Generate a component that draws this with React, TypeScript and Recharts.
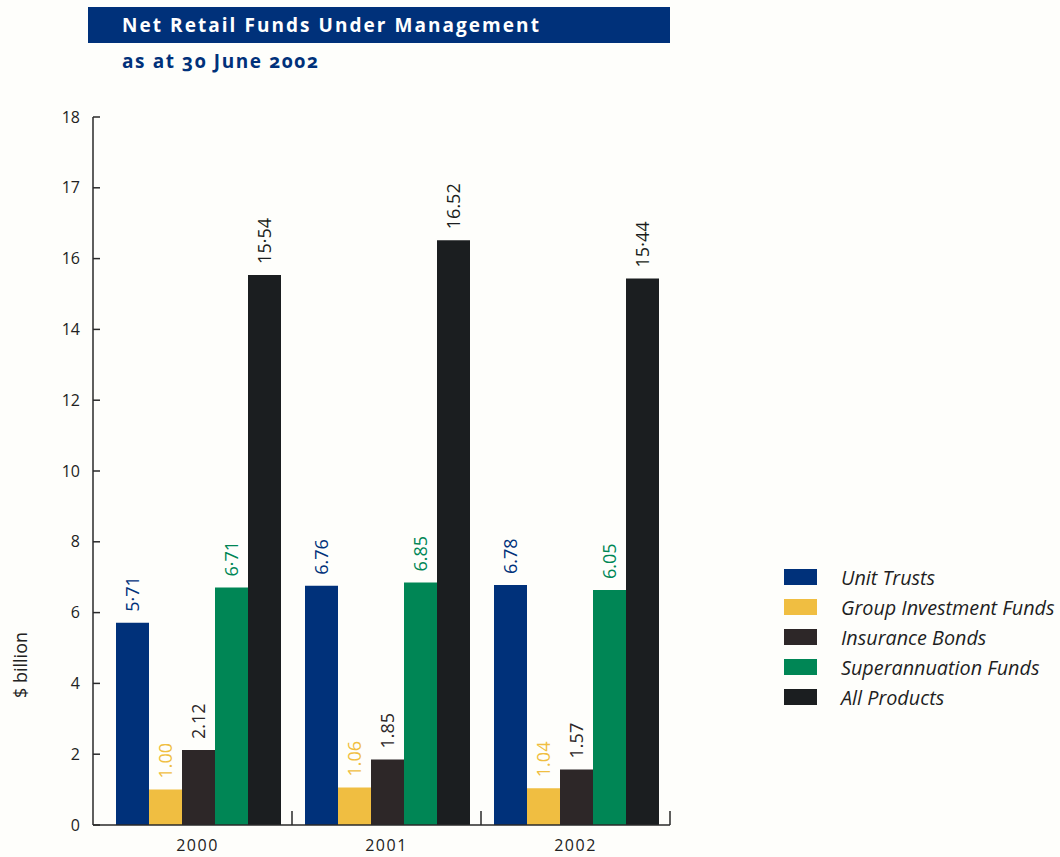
import { BarChart, Bar, XAxis, YAxis, LabelList } from 'recharts'

const years = ['2000', '2001', '2002']
const unitTrusts = [5.71, 6.76, 6.78]
const groupInvestment = [1.0, 1.06, 1.04]
const insuranceBonds = [2.12, 1.85, 1.57]
const superannuation = [6.71, 6.85, 6.64]
const allProducts = [15.54, 16.52, 15.44]

// printed labels (as shown on the chart, dots and all)
const unitTrustsLabels = ['5·71', '6.76', '6.78']
const groupInvestmentLabels = ['1.00', '1.06', '1.04']
const insuranceBondsLabels = ['2.12', '1.85', '1.57']
const superannuationLabels = ['6·71', '6.85', '6.05']
const allProductsLabels = ['15·54', '16.52', '15·44']

const yTickValues = [0, 2, 4, 6, 8, 10, 12, 14, 16, 18, 20]
const yTickLabels = ['0', '2', '4', '6', '8', '10', '12', '14', '16', '17', '18']

const series = [
  { key: 'unit', name: 'Unit Trusts', color: '#00317a', labels: unitTrustsLabels },
  { key: 'group', name: 'Group Investment Funds', color: '#f0be41', labels: groupInvestmentLabels },
  { key: 'insurance', name: 'Insurance Bonds', color: '#2d2728', labels: insuranceBondsLabels },
  { key: 'super', name: 'Superannuation Funds', color: '#008655', labels: superannuationLabels },
  { key: 'all', name: 'All Products', color: '#1b1e20', labels: allProductsLabels },
]

const data = years.map((year, i) => ({
  year,
  unit: unitTrusts[i],
  group: groupInvestment[i],
  insurance: insuranceBonds[i],
  super: superannuation[i],
  all: allProducts[i],
}))

const FONT = '"Open Sans", "Noto Sans", sans-serif'
const AXIS = '#2a2a2a'
const TICK_MARGIN = 15

function VerticalLabel(props: any) {
  const { x, y, width, index, labels, color } = props
  const cx = x + width / 2
  const top = y - 11
  return (
    <text
      x={cx}
      y={top}
      transform={`rotate(-90 ${cx} ${top})`}
      textAnchor="start"
      dominantBaseline="central"
      fill={color}
      fontSize={18}
      fontFamily={FONT}
    >
      {labels[index]}
    </text>
  )
}

// year label at the band centre, plus a short upward tick at the band's right edge
function YearTick(props: any) {
  const { x, y, payload } = props
  const edge = x + (payload.offset || 0)
  const axisY = y - TICK_MARGIN
  return (
    <g>
      <line x1={edge} x2={edge} y1={axisY} y2={axisY - 14} stroke={AXIS} strokeWidth={1.5} />
      <text x={x} y={y} dy="0.71em" textAnchor="middle" fill="#222" fontSize={16} fontFamily={FONT} letterSpacing={1.5}>
        {payload.value}
      </text>
    </g>
  )
}

export default function App() {
  return (
    <div style={{ position: 'absolute', left: 0, top: 0, width: 1060, height: 857, background: '#fefefb', fontFamily: FONT }}>
      <div style={{ position: 'absolute', left: 88, top: 7, width: 582, height: 36, background: '#00317a' }} />
      <div style={{ position: 'absolute', left: 122, top: 9, color: '#fff', fontWeight: 700, fontSize: 19, letterSpacing: 2.05, lineHeight: '32px' }}>
        Net Retail Funds Under Management
      </div>
      <div style={{ position: 'absolute', left: 122, top: 46, color: '#00317a', fontWeight: 700, fontSize: 19, letterSpacing: 1.6, lineHeight: '30px', fontVariantNumeric: 'oldstyle-nums' }}>
        as at 30 June 2002
      </div>

      <div style={{ position: 'absolute', left: 20, top: 665, transform: 'translate(-50%, -50%) rotate(-90deg)', fontSize: 18, color: '#222', whiteSpace: 'nowrap' }}>
        $ billion
      </div>

      <div style={{ position: 'absolute', left: 0, top: 0 }}>
        <BarChart width={1060} height={857} data={data} margin={{ top: 117, right: 390, bottom: 2, left: 33 }} barCategoryGap={13} barGap={0}>
          <XAxis
            dataKey="year"
            padding={{ left: 10, right: 0 }}
            height={30}
            axisLine={{ stroke: AXIS, strokeWidth: 1.5 }}
            tickLine={false}
            tickSize={0}
            tickMargin={TICK_MARGIN}
            tick={<YearTick />}
          />
          <YAxis
            width={60}
            domain={[0, 20]}
            ticks={yTickValues}
            interval={0}
            tickFormatter={(v: number) => yTickLabels[yTickValues.indexOf(v)]}
            axisLine={{ stroke: AXIS, strokeWidth: 1.5 }}
            tickLine={{ stroke: AXIS, strokeWidth: 1.5 }}
            tickSize={-7}
            tickMargin={20}
            tick={{ fill: '#222', fontSize: 16, fontFamily: FONT }}
          />
          {series.map(s => (
            <Bar key={s.key} dataKey={s.key} name={s.name} fill={s.color} isAnimationActive={false}>
              <LabelList dataKey={s.key} content={(p: any) => <VerticalLabel {...p} labels={s.labels} color={s.color} />} />
            </Bar>
          ))}
        </BarChart>
      </div>

      {series.map((s, i) => (
        <div key={s.key} style={{ position: 'absolute', left: 784, top: 562 + i * 30, height: 30, display: 'flex', alignItems: 'center' }}>
          <div style={{ width: 33, height: 16, background: s.color }} />
          <div style={{ marginLeft: 24, fontStyle: 'italic', fontSize: 19.8, color: '#1f1f1f', whiteSpace: 'nowrap' }}>{s.name}</div>
        </div>
      ))}
    </div>
  )
}
